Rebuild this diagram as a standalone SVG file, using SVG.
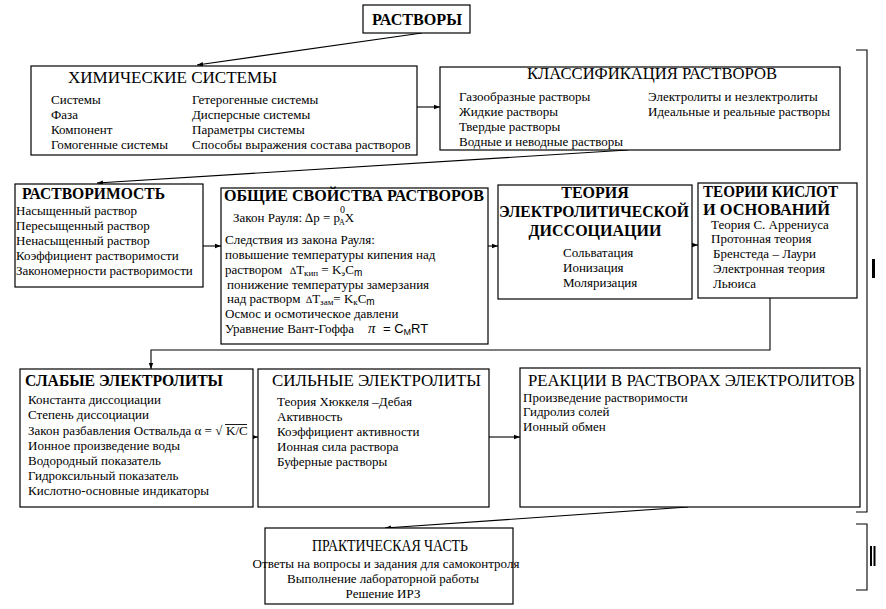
<svg xmlns="http://www.w3.org/2000/svg" width="886" height="609" viewBox="0 0 886 609">
<defs>
<marker id="ah" markerWidth="6" markerHeight="6" refX="6" refY="3" orient="auto" markerUnits="userSpaceOnUse"><path d="M0,0.8 L6,3 L0,5.2 z" fill="#000"/></marker>
</defs>
<style>
.b{fill:#fff;stroke:#000;stroke-width:1.2}
.t{font-family:"Liberation Serif","Times New Roman",serif;font-size:16px}
.tb{font-family:"Liberation Serif","Times New Roman",serif;font-size:16px;font-weight:bold}
.i{font-family:"Liberation Serif","Times New Roman",serif;font-size:13px}
.c{stroke:#000;stroke-width:1.1;fill:none}
.s{font-family:"Liberation Sans",Arial,sans-serif}
</style>
<rect width="886" height="609" fill="#fff"/>
<g id="connectors">
<line class="c" x1="422" y1="33" x2="197" y2="65" marker-end="url(#ah)"/>
<line class="c" x1="417" y1="107" x2="440" y2="107" marker-end="url(#ah)"/>
<line class="c" x1="628" y1="150" x2="97" y2="183" marker-end="url(#ah)"/>
<line class="c" x1="203" y1="246" x2="221" y2="246" marker-end="url(#ah)"/>
<line class="c" x1="488" y1="246" x2="498" y2="246" marker-end="url(#ah)"/>
<line class="c" x1="692" y1="245" x2="698" y2="245" marker-end="url(#ah)"/>
<polyline class="c" points="770,298 770,350 151,350 151,369" marker-end="url(#ah)"/>
<line class="c" x1="253" y1="437" x2="258" y2="437" marker-end="url(#ah)"/>
<line class="c" x1="489" y1="437" x2="520" y2="437" marker-end="url(#ah)"/>
<line class="c" x1="688" y1="507" x2="385" y2="528" marker-end="url(#ah)"/>
</g>
<g id="brackets">
<polyline class="c" points="856,50 867,50 867,512 856,512"/>
<rect x="872" y="259" width="3" height="19" fill="#000"/>
<polyline class="c" points="856,524 867,524 867,590 856,590"/>
<rect x="870" y="546" width="2" height="20" fill="#000"/>
<rect x="873.5" y="546" width="2" height="20" fill="#000"/>
</g>
<g id="n-rastvory">
<rect class="b" x="363" y="5" width="107" height="28"/>
<text class="tb" x="372" y="25" textLength="90" lengthAdjust="spacingAndGlyphs">РАСТВОРЫ</text>
</g>
<g id="n-him">
<rect class="b" x="31" y="66" width="386" height="89"/>
<text class="t" x="68" y="83" textLength="209" lengthAdjust="spacingAndGlyphs">ХИМИЧЕСКИЕ СИСТЕМЫ</text>
<text class="i" x="51" y="104">Системы</text>
<text class="i" x="51" y="119">Фаза</text>
<text class="i" x="51" y="134">Компонент</text>
<text class="i" x="51" y="149">Гомогенные системы</text>
<text class="i" x="192" y="104">Гетерогенные системы</text>
<text class="i" x="192" y="119">Дисперсные системы</text>
<text class="i" x="192" y="134">Параметры системы</text>
<text class="i" x="192" y="149">Способы выражения состава растворов</text>
</g>
<g id="n-klass">
<rect class="b" x="440" y="67" width="400" height="83"/>
<text class="t" x="527" y="79" textLength="250" lengthAdjust="spacingAndGlyphs">КЛАССИФИКАЦИЯ РАСТВОРОВ</text>
<text class="i" x="459" y="101">Газообразные растворы</text>
<text class="i" x="459" y="116">Жидкие растворы</text>
<text class="i" x="459" y="131">Твердые растворы</text>
<text class="i" x="459" y="146">Водные и неводные растворы</text>
<text class="i" x="648" y="101">Электролиты и незлектролиты</text>
<text class="i" x="648" y="116">Идеальные и реальные растворы</text>
</g>
<g id="n-rastvorimost">
<rect class="b" x="15" y="184" width="188" height="103"/>
<text class="tb" x="22" y="199" textLength="143" lengthAdjust="spacingAndGlyphs">РАСТВОРИМОСТЬ</text>
<text class="i" x="16" y="215">Насыщенный раствор</text>
<text class="i" x="16" y="230">Пересыщенный раствор</text>
<text class="i" x="16" y="245">Ненасыщенный раствор</text>
<text class="i" x="16" y="260">Коэффициент растворимости</text>
<text class="i" x="16" y="275">Закономерности растворимости</text>
</g>
<g id="n-obshie">
<rect class="b" x="221" y="188" width="267" height="156"/>
<text class="tb" x="224" y="201" textLength="260" lengthAdjust="spacingAndGlyphs">ОБЩИЕ СВОЙСТВА РАСТВОРОВ</text>
<text class="i" x="233" y="222">Закон Рауля: ∆p = p<tspan font-size="10" dy="-9">0</tspan><tspan font-size="8" dx="-6" dy="12">A</tspan><tspan dy="-3">X</tspan></text>
<text class="i" x="225" y="244">Следствия из закона Рауля:</text>
<text class="i" x="225" y="259">повышение температуры кипения над</text>
<text class="i" x="225" y="274">раствором</text>
<text class="i" x="290" y="274"><tspan font-size="10">∆</tspan>T<tspan font-size="9" dy="2">кип</tspan><tspan dy="-2"> = K</tspan><tspan font-size="9" dy="2">э</tspan><tspan dy="-2">C</tspan><tspan class="s" font-size="10" dy="2">m</tspan></text>
<text class="i" x="227" y="289">понижение температуры замерзания</text>
<text class="i" x="227" y="303">над растворм</text>
<text class="i" x="306" y="303"><tspan font-size="10">∆</tspan>T<tspan font-size="9" dy="2">зам</tspan><tspan dy="-2">= K</tspan><tspan font-size="9" dy="2">к</tspan><tspan dy="-2">C</tspan><tspan class="s" font-size="10" dy="2">m</tspan></text>
<text class="i" x="225" y="318">Осмос и осмотическое давлени</text>
<text class="i" x="225" y="333">Уравнение Вант-Гоффа</text>
<text x="368" y="333" font-size="15" font-style="italic" font-family="Liberation Serif, serif">π</text>
<text class="s" x="383" y="333" font-size="13">= C<tspan font-size="9" dy="2">M</tspan><tspan dy="-2">RT</tspan></text>
</g>
<g id="n-teoria-ed">
<rect class="b" x="498" y="185" width="194" height="114"/>
<text class="tb" x="595" y="198" text-anchor="middle">ТЕОРИЯ</text>
<text class="tb" x="499" y="217" textLength="190" lengthAdjust="spacingAndGlyphs">ЭЛЕКТРОЛИТИЧЕСКОЙ</text>
<text class="tb" x="595" y="236" text-anchor="middle">ДИССОЦИАЦИИ</text>
<text class="i" x="563" y="257">Сольватация</text>
<text class="i" x="563" y="272">Ионизация</text>
<text class="i" x="563" y="287">Моляризация</text>
</g>
<g id="n-teorii-kislot">
<rect class="b" x="698" y="183" width="159" height="115"/>
<text class="tb" x="703" y="197" textLength="135" lengthAdjust="spacingAndGlyphs">ТЕОРИИ КИСЛОТ</text>
<text class="tb" x="703" y="215" textLength="127" lengthAdjust="spacingAndGlyphs">И ОСНОВАНИЙ</text>
<text class="i" x="711" y="229">Теория С. Аррениуса</text>
<text class="i" x="711" y="243">Протонная теория</text>
<text class="i" x="713" y="258">Бренстеда  –  Лаури</text>
<text class="i" x="713" y="273">Электронная теория</text>
<text class="i" x="713" y="288">Льюиса</text>
</g>
<g id="n-slabye">
<rect class="b" x="20" y="369" width="233" height="138"/>
<text class="tb" x="25" y="386" textLength="198" lengthAdjust="spacingAndGlyphs">СЛАБЫЕ ЭЛЕКТРОЛИТЫ</text>
<text class="i" x="28" y="404">Константа диссоциации</text>
<text class="i" x="28" y="419">Степень диссоциации</text>
<text class="i" x="28" y="435">Закон разбавления Оствальда α = √</text>
<text class="i" x="226" y="435">K/C</text>
<line x1="225" y1="424.5" x2="247" y2="424.5" stroke="#000" stroke-width="0.9"/>
<text class="i" x="28" y="450">Ионное произведение воды</text>
<text class="i" x="28" y="465">Водородный показатель</text>
<text class="i" x="28" y="480">Гидроксильный показатель</text>
<text class="i" x="28" y="495">Кислотно-основные индикаторы</text>
</g>
<g id="n-silnye">
<rect class="b" x="258" y="369" width="231" height="138"/>
<text class="t" x="272" y="386" textLength="209" lengthAdjust="spacingAndGlyphs">СИЛЬНЫЕ ЭЛЕКТРОЛИТЫ</text>
<text class="i" x="277" y="406">Теория Хюккеля –Дебая</text>
<text class="i" x="277" y="421">Активность</text>
<text class="i" x="277" y="436">Коэффициент активности</text>
<text class="i" x="277" y="451">Ионная сила раствора</text>
<text class="i" x="277" y="466">Буферные растворы</text>
</g>
<g id="n-reakcii">
<rect class="b" x="520" y="368" width="340" height="139"/>
<text class="t" x="528" y="386" textLength="327" lengthAdjust="spacingAndGlyphs">РЕАКЦИИ В РАСТВОРАХ ЭЛЕКТРОЛИТОВ</text>
<text class="i" x="523" y="402">Произведение растворимости</text>
<text class="i" x="523" y="416">Гидролиз солей</text>
<text class="i" x="523" y="431">Ионный обмен</text>
</g>
<g id="n-praktika">
<rect class="b" x="265" y="528" width="248" height="76"/>
<text class="t" x="390" y="551" text-anchor="middle" textLength="156" lengthAdjust="spacingAndGlyphs">ПРАКТИЧЕСКАЯ ЧАСТЬ</text>
<text class="i" x="386" y="568" text-anchor="middle">Ответы на вопросы и задания для самоконтроля</text>
<text class="i" x="383" y="583" text-anchor="middle">Выполнение лабораторной работы</text>
<text class="i" x="383" y="598" text-anchor="middle">Решение ИРЗ</text>
</g>
</svg>
